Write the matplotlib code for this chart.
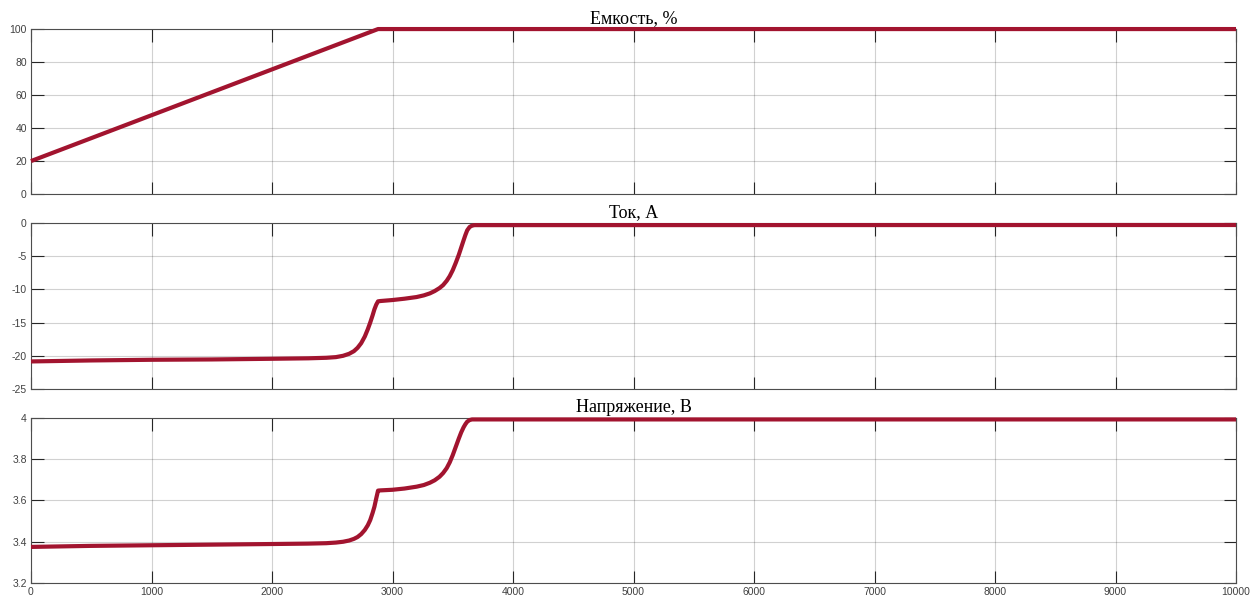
import matplotlib
matplotlib.use("Agg")
import matplotlib.pyplot as plt
from matplotlib.ticker import FuncFormatter

# --- данные ---
t_cap = [0, 2880, 10000]
cap = [20, 100, 100]

t_cur = [0, 500, 1000, 1500, 2000, 2300, 2450, 2530, 2590, 2640, 2680, 2710,
         2740, 2770, 2795, 2815, 2835, 2850, 2865, 2880, 2900, 3000, 3100,
         3200, 3260, 3310, 3350, 3390, 3420, 3450, 3475, 3500, 3525, 3550,
         3570, 3590, 3605, 3620, 3640, 3660, 3680, 10000]
cur = [-20.85, -20.7, -20.6, -20.55, -20.45, -20.38, -20.3, -20.2, -20.0,
       -19.7, -19.3, -18.8, -18.1, -17.1, -16.0, -15.0, -13.9, -13.0, -12.3,
       -11.8, -11.75, -11.6, -11.4, -11.15, -10.9, -10.6, -10.25, -9.8, -9.35,
       -8.7, -8.0, -7.1, -6.0, -4.8, -3.7, -2.6, -1.8, -1.1, -0.6, -0.4,
       -0.32, -0.3]

t_volt = [0, 500, 1000, 1500, 2000, 2300, 2450, 2530, 2590, 2640, 2680, 2710,
          2740, 2770, 2795, 2815, 2835, 2850, 2865, 2880, 2900, 3000, 3100,
          3200, 3260, 3310, 3350, 3390, 3420, 3450, 3475, 3500, 3525, 3550,
          3570, 3590, 3605, 3620, 3640, 3660, 3680, 10000]
volt = [3.375, 3.38, 3.383, 3.386, 3.389, 3.391, 3.393, 3.396, 3.4, 3.406,
        3.414, 3.423, 3.437, 3.457, 3.48, 3.505, 3.54, 3.57, 3.61, 3.648,
        3.649, 3.652, 3.658, 3.667, 3.675, 3.686, 3.698, 3.715, 3.733, 3.757,
        3.785, 3.82, 3.86, 3.9, 3.93, 3.955, 3.97, 3.982, 3.99, 3.993, 3.993,
        3.993]

titles = ["Емкость, %", "Ток, А", "Напряжение, В"]
x_ticks = list(range(0, 10001, 1000))
y_ticks = [[0, 20, 40, 60, 80, 100],
           [-25, -20, -15, -10, -5, 0],
           [3.2, 3.4, 3.6, 3.8, 4.0]]
y_lims = [(0, 100), (-25, 0), (3.2, 4.0)]

line_color = "#A2142F"
edge = "#4d4d4d"

fig = plt.figure(figsize=(12.5, 5.99), dpi=100)
boxes = [[0.0248, 0.676, 0.964, 0.2755],
         [0.0248, 0.3506, 0.964, 0.2771],
         [0.0248, 0.0267, 0.964, 0.2755]]
series = [(t_cap, cap), (t_cur, cur), (t_volt, volt)]

fmt = FuncFormatter(lambda v, p: ("%g" % v))

for i, (box, (tx, vy)) in enumerate(zip(boxes, series)):
    ax = fig.add_axes(box)
    ax.plot(tx, vy, color=line_color, lw=3, solid_joinstyle="round",
            solid_capstyle="butt", clip_on=False, zorder=5)
    ax.set_xlim(0, 10000)
    ax.set_ylim(*y_lims[i])
    ax.set_xticks(x_ticks)
    ax.set_yticks(y_ticks[i])
    ax.yaxis.set_major_formatter(fmt)
    ax.grid(True, color="#000000", alpha=0.18, lw=0.8)
    ax.tick_params(direction="in", length=9, width=0.8, top=True, right=True,
                   labelsize=7.5, colors="#262626", labelcolor="#404040", pad=3)
    for s in ax.spines.values():
        s.set_color(edge)
        s.set_linewidth(0.8)
    if i < 2:
        ax.set_xticklabels([])
    for lab in ax.get_xticklabels() + ax.get_yticklabels():
        lab.set_family("Liberation Sans")
    ax.set_title(titles[i], family="Liberation Serif", fontsize=13, pad=4)

fig.savefig("out.png", dpi=100)
